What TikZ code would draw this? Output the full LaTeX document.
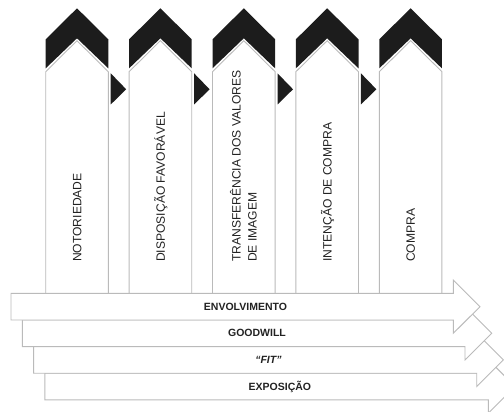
\documentclass[tikz,border=0pt]{standalone}
\usepackage{fontspec}
\setmainfont{Liberation Sans}
\definecolor{capblack}{HTML}{1C1C1C}
\definecolor{edgegray}{HTML}{BABABA}
\definecolor{inkgray}{HTML}{222222}
\begin{document}
\begin{tikzpicture}[x=1pt,y=-1pt,
  outline/.style={draw=edgegray, line width=0.9pt, fill=white, line join=miter},
  capfill/.style={fill=capblack},
  stagelabel/.style={rotate=90, anchor=west, inner sep=0pt, text=inkgray,
    font=\fontsize{12.1}{16}\selectfont},
  onecap/.style={text height=8.7pt, text depth=0pt},
  barlabel/.style={inner sep=0pt, text=inkgray, text height=7.5pt, text depth=0pt,
    font=\fontsize{10.5}{12}\selectfont\bfseries}]
\useasboundingbox (0,0) rectangle (504,412);
\clip (0,0) rectangle (504,412);

% five stage columns: black chevron cap over a white pointed column
\foreach \i in {0,...,4} {
  \pgfmathsetmacro\L{45.7+83.4*\i}
  \pgfmathsetmacro\R{\L+62.6}
  \pgfmathsetmacro\C{\L+31.3}
  \fill[capfill] (\C,8.3) -- (\R,39.3) -- (\R,68.3) -- (\C,38.3) -- (\L,68.3) -- (\L,39.3) -- cycle;
  \draw[outline] (\C,40.7) -- (\R,71.7) -- (\R,300) -- (\L,300) -- (\L,71.7) -- cycle;
}

% small pointers between neighbouring columns
\foreach \i in {0,...,3} {
  \pgfmathsetmacro\R{45.7+83.4*\i+62.6}
  \fill[capfill] (\R+2.4,73.3) -- (\R+17.9,89.3) -- (\R+2.4,104.5) -- cycle;
}

% stacked horizontal arrows, lowest first so upper heads lie on top
\foreach \k in {3,2,1,0} {
  \pgfmathsetmacro\AL{11+11.3*\k}
  \pgfmathsetmacro\AT{293.3+26.6*\k}
  \pgfmathsetmacro\AB{\AT+26.7}
  \pgfmathsetmacro\AS{453.3+11.7*\k}
  \pgfmathsetmacro\AX{\AS+26.7}
  \pgfmathsetmacro\AM{(\AT+\AB)/2}
  \draw[outline] (\AL,\AT) -- (\AS,\AT) -- (\AS,\AT-13.3) -- (\AX,\AM)
    -- (\AS,\AB+13.3) -- (\AS,\AB) -- (\AL,\AB) -- cycle;
}

% stage names
\node[stagelabel, onecap] (notoriedade) at (77,262) {NOTORIEDADE};
\node[stagelabel, onecap] (disposicao) at (160.4,262) {DISPOSIÇÃO FAVORÁVEL};
\node[stagelabel, align=left] (transferencia) at (243.4,262) {TRANSFERÊNCIA DOS VALORES\\DE IMAGEM};
\node[stagelabel, onecap] (intencao) at (327.2,262) {INTENÇÃO DE COMPRA};
\node[stagelabel, onecap] (compra) at (410.6,262) {COMPRA};

% arrow names
\node[barlabel] (envolvimento) at (245.5,306.6) {ENVOLVIMENTO};
\node[barlabel] (goodwill) at (257,333.2) {GOODWILL};
\node[barlabel, font=\fontsize{10.5}{12}\selectfont\bfseries\itshape] (fit) at (268.4,359.8) {“FIT”};
\node[barlabel] (exposicao) at (279.9,386.4) {EXPOSIÇÃO};
\end{tikzpicture}
\end{document}
